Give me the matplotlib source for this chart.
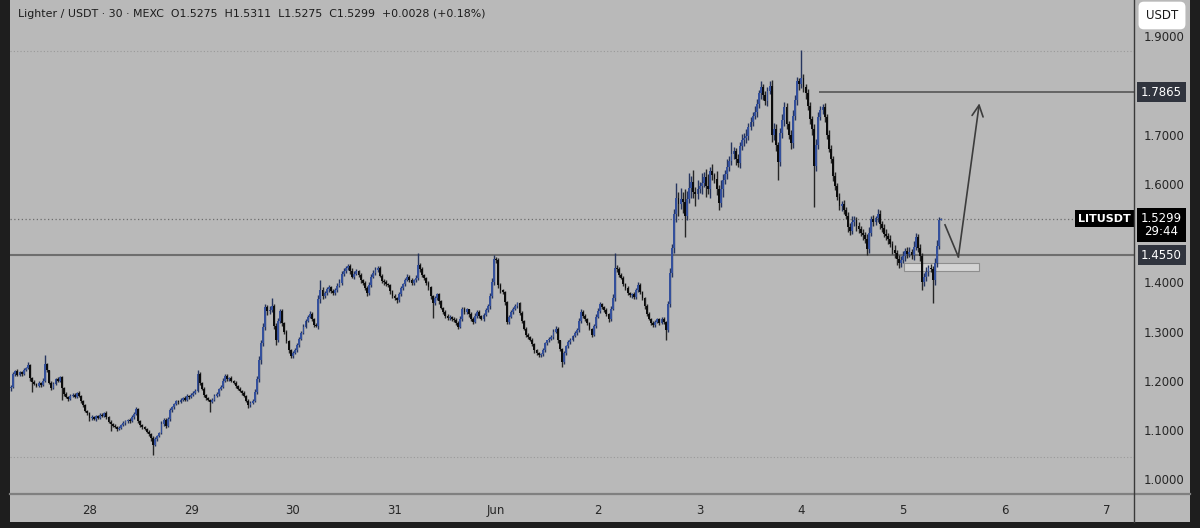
import numpy as np
import matplotlib
matplotlib.use("Agg")
import matplotlib.pyplot as plt
from matplotlib.patches import Rectangle
from matplotlib.lines import Line2D

# 30 minute candles, first one = May 27 05:30, last one = Jun 5 09:00
closes = [
    1.188, 1.214, 1.220, 1.212, 1.217, 1.214, 1.222, 1.226, 1.232, 1.205,
    1.198, 1.194, 1.190, 1.196, 1.192, 1.200, 1.234, 1.221, 1.196, 1.186,
    1.194, 1.203, 1.200, 1.207, 1.186, 1.174, 1.168, 1.163, 1.170, 1.172,
    1.168, 1.175, 1.170, 1.158, 1.150, 1.138, 1.134, 1.124, 1.127, 1.122,
    1.128, 1.125, 1.131, 1.129, 1.135, 1.126, 1.117, 1.112, 1.109, 1.106,
    1.102, 1.105, 1.110, 1.114, 1.118, 1.121, 1.118, 1.126, 1.133, 1.142,
    1.118, 1.110, 1.106, 1.103, 1.097, 1.092, 1.083, 1.070, 1.082, 1.088,
    1.094, 1.112, 1.121, 1.108, 1.122, 1.141, 1.146, 1.152, 1.158, 1.156,
    1.162, 1.165, 1.161, 1.170, 1.168, 1.172, 1.175, 1.180, 1.214, 1.196,
    1.184, 1.172, 1.165, 1.161, 1.157, 1.162, 1.170, 1.174, 1.183, 1.188,
    1.200, 1.210, 1.203, 1.206, 1.199, 1.196, 1.190, 1.184, 1.180, 1.176,
    1.170, 1.160, 1.150, 1.155, 1.160, 1.178, 1.204, 1.242, 1.276, 1.310,
    1.350, 1.341, 1.344, 1.352, 1.312, 1.284, 1.322, 1.342, 1.318, 1.300,
    1.280, 1.262, 1.250, 1.256, 1.262, 1.272, 1.286, 1.298, 1.310, 1.322,
    1.330, 1.336, 1.325, 1.314, 1.312, 1.366, 1.384, 1.372, 1.378, 1.386,
    1.390, 1.382, 1.378, 1.384, 1.392, 1.398, 1.418, 1.424, 1.430, 1.433,
    1.424, 1.412, 1.418, 1.423, 1.416, 1.404, 1.398, 1.388, 1.379, 1.394,
    1.412, 1.420, 1.426, 1.430, 1.414, 1.403, 1.400, 1.396, 1.394, 1.382,
    1.372, 1.368, 1.364, 1.376, 1.388, 1.396, 1.405, 1.412, 1.404, 1.398,
    1.404, 1.410, 1.436, 1.428, 1.416, 1.408, 1.398, 1.390, 1.372, 1.358,
    1.368, 1.376, 1.362, 1.348, 1.340, 1.332, 1.327, 1.330, 1.326, 1.324,
    1.318, 1.310, 1.326, 1.346, 1.340, 1.345, 1.336, 1.326, 1.320, 1.332,
    1.340, 1.332, 1.326, 1.334, 1.344, 1.352, 1.372, 1.400, 1.448, 1.446,
    1.394, 1.384, 1.380, 1.360, 1.320, 1.330, 1.340, 1.346, 1.352, 1.358,
    1.338, 1.322, 1.306, 1.294, 1.290, 1.284, 1.274, 1.262, 1.256, 1.252,
    1.254, 1.262, 1.276, 1.282, 1.286, 1.290, 1.300, 1.306, 1.282, 1.264,
    1.238, 1.256, 1.270, 1.278, 1.284, 1.292, 1.298, 1.304, 1.322, 1.340,
    1.332, 1.326, 1.317, 1.306, 1.294, 1.312, 1.330, 1.342, 1.356, 1.350,
    1.344, 1.336, 1.325, 1.346, 1.368, 1.430, 1.428, 1.416, 1.410, 1.396,
    1.388, 1.378, 1.374, 1.376, 1.370, 1.384, 1.395, 1.380, 1.368, 1.352,
    1.336, 1.326, 1.318, 1.314, 1.320, 1.325, 1.318, 1.326, 1.320, 1.304,
    1.356, 1.420, 1.470, 1.540, 1.572, 1.560, 1.570, 1.564, 1.536, 1.570,
    1.592, 1.604, 1.584, 1.580, 1.590, 1.596, 1.602, 1.614, 1.596, 1.590,
    1.626, 1.618, 1.610, 1.590, 1.562, 1.590, 1.608, 1.620, 1.634, 1.646,
    1.660, 1.668, 1.650, 1.642, 1.678, 1.690, 1.694, 1.698, 1.716, 1.726,
    1.738, 1.746, 1.762, 1.784, 1.798, 1.780, 1.768, 1.790, 1.800, 1.700,
    1.712, 1.680, 1.644, 1.704, 1.730, 1.756, 1.722, 1.700, 1.684, 1.738,
    1.770, 1.810, 1.804, 1.815, 1.798, 1.784, 1.758, 1.732, 1.712, 1.636,
    1.680, 1.736, 1.750, 1.756, 1.736, 1.700, 1.672, 1.650, 1.616, 1.596,
    1.574, 1.556, 1.560, 1.548, 1.534, 1.512, 1.504, 1.522, 1.527, 1.514,
    1.508, 1.500, 1.496, 1.488, 1.468, 1.500, 1.528, 1.522, 1.530, 1.540,
    1.518, 1.510, 1.498, 1.494, 1.488, 1.478, 1.466, 1.460, 1.448, 1.440,
    1.446, 1.454, 1.464, 1.458, 1.462, 1.456, 1.472, 1.492, 1.470, 1.454,
    1.400, 1.412, 1.422, 1.430, 1.428, 1.404, 1.440, 1.474, 1.5275, 1.5299,
]
first_open = 1.185

# wick lengths above / below the body, in thousandths
upper_wick = [
    3, 4, 2, 5, 3, 2, 4, 3, 6, 2,   2, 3, 2, 4, 2, 5, 19, 3, 2, 3,
    4, 2, 5, 3, 2, 2, 3, 2, 4, 3,   3, 2, 4, 2, 3, 2, 3, 2, 4, 2,
    3, 2, 4, 3, 2, 3, 2, 3, 2, 3,   2, 3, 2, 4, 3, 2, 3, 4, 3, 5,
    2, 3, 2, 3, 2, 3, 2, 4, 3, 2,   3, 6, 4, 3, 5, 4, 3, 2, 4, 3,
    3, 2, 4, 3, 2, 3, 4, 3, 8, 3,   2, 3, 2, 3, 2, 3, 4, 3, 2, 4,
    5, 4, 3, 2, 3, 2, 3, 2, 3, 2,   3, 2, 3, 4, 3, 5, 6, 8, 6, 8,
    6, 5, 8, 16, 4, 5, 6, 4, 3, 2,  3, 2, 3, 4, 5, 4, 3, 4, 5, 3,
    4, 5, 3, 2, 3, 8, 20, 6, 5, 4,  4, 3, 4, 5, 6, 8, 5, 6, 4, 5,
    4, 5, 6, 4, 3, 4, 3, 5, 4, 6,   5, 6, 5, 4, 3, 4, 3, 4, 3, 2,
    3, 4, 2, 5, 4, 3, 4, 5, 3, 4,   3, 5, 23, 4, 3, 2, 3, 4, 2, 3,
    4, 3, 2, 3, 2, 3, 4, 3, 2, 3,   3, 4, 6, 5, 4, 3, 2, 3, 4, 5,
    4, 3, 2, 3, 4, 5, 6, 8, 8, 4,   3, 4, 3, 2, 3, 4, 3, 4, 5, 3,
    2, 3, 2, 3, 4, 2, 3, 2, 3, 2,   3, 4, 3, 2, 3, 4, 5, 6, 3, 2,
    3, 4, 3, 4, 3, 2, 3, 4, 5, 6,   4, 3, 2, 3, 2, 4, 5, 6, 4, 3,
    3, 4, 2, 6, 8, 29, 5, 4, 3, 4,  3, 4, 2, 3, 4, 5, 6, 3, 2, 3,
    4, 3, 2, 3, 4, 3, 2, 4, 3, 2,   6, 10, 8, 10, 30, 12, 22, 14, 26, 16,
    30, 12, 24, 10, 18, 8, 20, 10, 16, 24,  8, 14, 5, 16, 8, 18, 12, 8, 16, 10,
    25, 8, 6, 10, 8, 12, 10, 14, 8, 10,  8, 12, 10, 8, 12, 6, 10, 8, 10, 12,
    12, 10, 6, 10, 12, 10, 8, 6, 10, 12,  10, 8, 6, 58, 8, 6, 10, 8, 6, 10,
    12, 10, 8, 6, 8, 6, 10, 8, 6, 8,  6, 8, 6, 8, 6, 10, 8, 12, 8, 6,
    8, 6, 8, 6, 10, 12, 8, 10, 6, 10,  8, 6, 8, 10, 6, 8, 6, 10, 6, 8,
    8, 10, 6, 8, 10, 6, 12, 8, 6, 8,  6, 8, 10, 6, 8, 6, 10, 12, 6, 1.2,
]
lower_wick = [
    5, 3, 4, 2, 3, 4, 2, 3, 2, 5,   20, 3, 2, 3, 4, 2, 3, 4, 3, 5,
    2, 3, 2, 3, 25, 4, 3, 4, 2, 3,  2, 3, 2, 4, 3, 2, 4, 5, 3, 2,
    3, 2, 3, 2, 3, 4, 3, 14, 3, 2,  3, 2, 3, 2, 3, 4, 3, 2, 3, 2,
    3, 4, 3, 2, 3, 4, 5, 21, 3, 4,  3, 2, 4, 3, 2, 3, 4, 3, 2, 3,
    2, 3, 2, 3, 4, 2, 3, 2, 3, 4,   3, 4, 3, 2, 20, 3, 2, 3, 4, 2,
    3, 2, 4, 3, 2, 3, 4, 2, 3, 4,   3, 4, 5, 3, 2, 3, 4, 6, 8, 5,
    6, 8, 5, 4, 6, 12, 6, 5, 6, 4,  3, 5, 4, 3, 2, 3, 4, 3, 2, 3,
    3, 2, 4, 5, 3, 6, 8, 5, 4, 3,   5, 4, 3, 4, 3, 2, 3, 4, 5, 4,
    6, 4, 5, 3, 4, 5, 4, 3, 6, 4,   3, 4, 5, 4, 3, 4, 5, 3, 4, 5,
    4, 3, 5, 4, 3, 4, 3, 2, 4, 3,   4, 3, 5, 6, 4, 3, 4, 5, 6, 30,
    3, 4, 5, 3, 4, 5, 3, 4, 5, 4,   5, 4, 3, 4, 5, 4, 6, 5, 4, 3,
    4, 5, 3, 4, 3, 4, 5, 4, 5, 6,   6, 5, 4, 6, 5, 4, 3, 4, 3, 4,
    5, 4, 3, 5, 4, 3, 4, 5, 4, 3,   4, 3, 4, 3, 4, 3, 4, 3, 5, 4,
    9, 4, 3, 4, 3, 4, 3, 4, 5, 4,   4, 5, 4, 3, 4, 3, 4, 3, 4, 5,
    4, 5, 6, 4, 3, 5, 6, 5, 4, 3,   4, 3, 4, 5, 4, 3, 4, 3, 4, 5,
    4, 3, 4, 5, 4, 3, 4, 3, 4, 21,  5, 6, 8, 10, 18, 26, 10, 22, 43, 10,
    8, 20, 12, 24, 10, 8, 16, 8, 22, 10,  18, 10, 8, 12, 14, 8, 16, 8, 10, 8,
    8, 10, 12, 8, 10, 8, 12, 10, 8, 6,  8, 6, 10, 8, 12, 10, 8, 10, 8, 14,
    10, 12, 36, 8, 10, 12, 10, 8, 12, 10,  8, 10, 12, 8, 10, 12, 8, 10, 12, 82,
    10, 8, 6, 8, 10, 8, 6, 8, 10, 8,  6, 8, 10, 8, 6, 10, 8, 6, 8, 10,
    8, 6, 10, 8, 12, 8, 6, 8, 6, 8,  10, 8, 6, 8, 10, 6, 8, 10, 12, 10,
    8, 6, 10, 8, 6, 8, 10, 6, 8, 10,  15, 8, 10, 8, 6, 46, 10, 8, 6, 0,
]

# day labels at midnight (candle index)
day_idx = [37, 85, 133, 181, 229, 277, 325, 373, 421, 469, 517]
day_labels = ["28", "29", "30", "31", "Jun", "2", "3", "4", "5", "6", "7"]
price_ticks = [1.0, 1.1, 1.2, 1.3, 1.4, 1.5, 1.6, 1.7, 1.8, 1.9]

support = 1.4550
target = 1.7865
last_price = 1.5299
range_high = 1.871
range_low = 1.046

BG = "#b9b9b9"
DARK = "#1e1e1e"
UP = "#34509c"
DOWN = "#0c0c0c"

W, H = 1200, 528


def fx(px):
    return px / W


def fy(py):
    return 1 - py / H


fig = plt.figure(figsize=(12, 5.28), dpi=100, facecolor=DARK)
fig.add_artist(Rectangle((fx(10), fy(522)), fx(1190) - fx(10), fy(0) - fy(522),
                         transform=fig.transFigure, facecolor=BG, edgecolor="none", zorder=-5))

ax = fig.add_axes([fx(10), fy(494), fx(1134) - fx(10), fy(0) - fy(494)])
ax.set_facecolor(BG)

c = np.array(closes)
o = np.r_[first_open, c[:-1]]
hi = np.maximum(o, c) + np.array(upper_wick) / 1000
lo = np.minimum(o, c) - np.array(lower_wick) / 1000
x = np.arange(len(c))
up = c >= o
col = np.where(up, UP, DOWN)
wcol = np.where(up, "#26355f", "#262626")

ax.vlines(x, lo, hi, colors=wcol, lw=1.0, zorder=3)
ax.bar(x, np.maximum(np.abs(c - o), 0.001), bottom=np.minimum(o, c), width=0.88,
       color=col, linewidth=0, zorder=4)

# levels / drawings
ax.axhline(range_high, color="#999999", lw=0.8, ls=(0, (1, 2)), zorder=1)
ax.axhline(range_low, color="#999999", lw=0.8, ls=(0, (1, 2)), zorder=1)
ax.axhline(last_price, color="#6c6c6c", lw=0.9, ls=(0, (1, 2)), zorder=1)
ax.axhline(support, color="#6e6e6e", lw=1.5, zorder=2)
ax.hlines(target, 381.3, 530, color="#5e5e5e", lw=1.3, zorder=2)
ax.add_patch(Rectangle((421.6, 1.424), 35.4, 0.016, facecolor="#d3d3d3",
                       edgecolor="#8e8e8e", lw=0.8, zorder=2))
ax.plot([440.8, 447.1], [1.517, 1.452], color="#3c3c3c", lw=1.2, zorder=5)
ax.annotate("", xy=(457.0, 1.764), xytext=(447.1, 1.452),
            arrowprops=dict(arrowstyle="->,head_length=0.8,head_width=0.4",
                            color="#3c3c3c", lw=1.2, shrinkA=0, shrinkB=0), zorder=5)

ax.set_xlim(-0.5, 530)
ax.set_ylim(0.970, 1.974)
for s in ax.spines.values():
    s.set_visible(False)

ax.yaxis.tick_right()
ax.set_yticks(price_ticks)
# 1.5000 sits under the last price box in the reference
ax.set_yticklabels(["" if p == 1.5 else f"{p:.4f}" for p in price_ticks])
ax.set_xticks(day_idx)
ax.set_xticklabels(day_labels)
ax.tick_params(axis="y", length=0, pad=7, labelsize=8.5, labelcolor="#262626")
ax.tick_params(axis="x", length=0, pad=7.5, labelsize=8.5, labelcolor="#262626")

# axis separators
fig.add_artist(Line2D([fx(10), fx(1190)], [fy(494), fy(494)], transform=fig.transFigure,
                      color="#808080", lw=1.6))
fig.add_artist(Line2D([fx(1134), fx(1134)], [fy(0), fy(522)], transform=fig.transFigure,
                      color="#3a3a3a", lw=1.0))

ytr = ax.get_yaxis_transform()
lab_x = 1.0245
ax.text(lab_x, target, "1.7865", transform=ytr, ha="center", va="center", fontsize=8.5,
        color="white", clip_on=False, zorder=10,
        bbox=dict(boxstyle="square,pad=0.3", fc="#30343e", ec="none"))
ax.text(lab_x, support, "1.4550", transform=ytr, ha="center", va="center", fontsize=8.5,
        color="white", clip_on=False, zorder=10,
        bbox=dict(boxstyle="square,pad=0.3", fc="#30343e", ec="none"))
ax.annotate(f"{last_price:.4f}\n29:44", xy=(lab_x, last_price), xycoords=ytr,
            xytext=(0, -4.8), textcoords="offset points", ha="center", va="center",
            fontsize=8.5, color="white", linespacing=1.05, annotation_clip=False, zorder=10,
            bbox=dict(boxstyle="square,pad=0.3", fc="black", ec="none"))
ax.text(0.9735, last_price, "LITUSDT", transform=ytr, ha="center", va="center",
        fontsize=8, fontweight="bold", color="white", clip_on=False, zorder=10,
        bbox=dict(boxstyle="square,pad=0.3", fc="black", ec="none"))

fig.text(fx(1162), fy(15.5), "USDT", ha="center", va="center", fontsize=8.5, color="#1a1a1a",
         bbox=dict(boxstyle="round,pad=0.62,rounding_size=0.45", fc="white", ec="none"))

fig.text(fx(18), fy(14), "Lighter / USDT \u00b7 30 \u00b7 MEXC  O1.5275  H1.5311  L1.5275  C1.5299  +0.0028 (+0.18%)",
         ha="left", va="center", fontsize=7.9, color="#1c1c1c")

fig.savefig("out.png", dpi=100, facecolor=DARK)
